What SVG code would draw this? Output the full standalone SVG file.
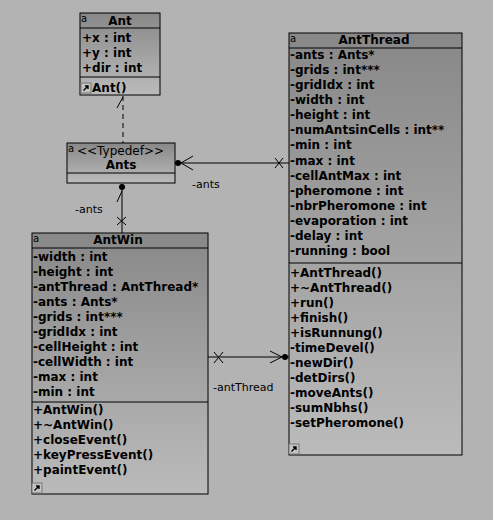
<svg xmlns="http://www.w3.org/2000/svg" width="493" height="520" viewBox="0 0 493 520">
<defs>
<linearGradient id="g" x1="0" y1="0" x2="0" y2="1">
<stop offset="0" stop-color="#888888"/>
<stop offset="1" stop-color="#bbbbbb"/>
</linearGradient>
<g id="ico">
<rect x="0" y="0" width="10" height="10" fill="#c4c4c4" stroke="#777" stroke-width="1"/>
<path d="M2.5 7.5 L7 3 M4 3 H7 V6" fill="none" stroke="#000" stroke-width="1.4"/>
</g>
</defs>
<style>
.box{fill:url(#g);stroke:#000;stroke-width:1}
.sep{stroke:#000;stroke-width:1}
.t{font-family:"DejaVu Sans",sans-serif;font-weight:bold;font-size:12px;fill:#000}
.h{font-family:"DejaVu Sans",sans-serif;font-weight:bold;font-size:12px;fill:#000;text-anchor:middle}
.n{font-family:"DejaVu Sans",sans-serif;font-size:11px;fill:#000}
.ty{font-family:"DejaVu Sans",sans-serif;font-size:12px;fill:#000}
.a{font-family:"DejaVu Sans",sans-serif;font-size:10px;fill:#000}
.ln{stroke:#000;stroke-width:1;fill:none}
</style>
<rect width="493" height="520" fill="#b3b3b3"/>

<g id="connectors">
<line class="ln" x1="123" y1="96" x2="123" y2="143" stroke-dasharray="5,4"/>
<line class="ln" x1="117" y1="108" x2="123" y2="97"/>
<line class="ln" x1="175" y1="163" x2="289" y2="163"/>
<circle cx="178" cy="163" r="3" fill="#000"/>
<path class="ln" d="M193 156 L181 163 L193 170"/>
<path class="ln" d="M275 158 L283 168 M283 158 L275 168"/>
<text class="n" x="192" y="188">-ants</text>
<line class="ln" x1="122" y1="184" x2="122" y2="233"/>
<circle cx="122" cy="187" r="3" fill="#000"/>
<line class="ln" x1="117" y1="202" x2="122" y2="191"/>
<path class="ln" d="M117 217 L126 225 M126 217 L117 225"/>
<text class="n" x="75" y="213">-ants</text>
<line class="ln" x1="208" y1="357" x2="289" y2="357"/>
<path class="ln" d="M214 352 L223 363 M223 352 L214 363"/>
<path class="ln" d="M270 351 L282 357 L270 363"/>
<circle cx="285" cy="357" r="3" fill="#000"/>
<text class="n" x="213" y="391">-antThread</text>
</g>

<g id="Ant">
<rect class="box" x="80" y="13" width="80" height="82"/>
<line class="sep" x1="80" y1="28" x2="160" y2="28"/>
<line class="sep" x1="80" y1="77" x2="160" y2="77"/>
<text class="a" x="81" y="22">a</text>
<text class="h" x="120" y="25">Ant</text>
<text class="t" x="82" y="42">+x : int</text>
<text class="t" x="82" y="57">+y : int</text>
<text class="t" x="82" y="72">+dir : int</text>
<text class="t" x="82" y="92">+Ant()</text>
<use href="#ico" x="81" y="83"/>
</g>

<g id="Ants">
<rect class="box" x="67" y="143" width="108" height="40"/>
<line class="sep" x1="67" y1="173" x2="175" y2="173"/>
<text class="a" x="68" y="152">a</text>
<text class="ty" x="77" y="155">&lt;&lt;Typedef&gt;&gt;</text>
<text class="h" x="121" y="169">Ants</text>
</g>

<g id="AntWin">
<rect class="box" x="32" y="233" width="176" height="261"/>
<line class="sep" x1="32" y1="248" x2="208" y2="248"/>
<line class="sep" x1="32" y1="402" x2="208" y2="402"/>
<text class="a" x="33" y="242">a</text>
<text class="h" x="118" y="244">AntWin</text>
<text class="t" x="33" y="261">-width : int</text>
<text class="t" x="33" y="276">-height : int</text>
<text class="t" x="33" y="291">-antThread : AntThread*</text>
<text class="t" x="33" y="306">-ants : Ants*</text>
<text class="t" x="33" y="321">-grids : int***</text>
<text class="t" x="33" y="336">-gridIdx : int</text>
<text class="t" x="33" y="351">-cellHeight : int</text>
<text class="t" x="33" y="366">-cellWidth : int</text>
<text class="t" x="33" y="381">-max : int</text>
<text class="t" x="33" y="396">-min : int</text>
<text class="t" x="33" y="414">+AntWin()</text>
<text class="t" x="33" y="429">+~AntWin()</text>
<text class="t" x="33" y="444">+closeEvent()</text>
<text class="t" x="33" y="459">+keyPressEvent()</text>
<text class="t" x="33" y="474">+paintEvent()</text>
<use href="#ico" x="32" y="483"/>
</g>

<g id="AntThread">
<rect class="box" x="289" y="33" width="173" height="422"/>
<line class="sep" x1="289" y1="48" x2="462" y2="48"/>
<line class="sep" x1="289" y1="263" x2="462" y2="263"/>
<text class="a" x="290" y="42">a</text>
<text class="h" x="374" y="44">AntThread</text>
<text class="t" x="290" y="59">-ants : Ants*</text>
<text class="t" x="290" y="74">-grids : int***</text>
<text class="t" x="290" y="89">-gridIdx : int</text>
<text class="t" x="290" y="104">-width : int</text>
<text class="t" x="290" y="119">-height : int</text>
<text class="t" x="290" y="134">-numAntsinCells : int**</text>
<text class="t" x="290" y="149">-min : int</text>
<text class="t" x="290" y="165">-max : int</text>
<text class="t" x="290" y="180">-cellAntMax : int</text>
<text class="t" x="290" y="195">-pheromone : int</text>
<text class="t" x="290" y="210">-nbrPheromone : int</text>
<text class="t" x="290" y="225">-evaporation : int</text>
<text class="t" x="290" y="240">-delay : int</text>
<text class="t" x="290" y="255">-running : bool</text>
<text class="t" x="290" y="277">+AntThread()</text>
<text class="t" x="290" y="292">+~AntThread()</text>
<text class="t" x="290" y="307">+run()</text>
<text class="t" x="290" y="322">+finish()</text>
<text class="t" x="290" y="337">+isRunnung()</text>
<text class="t" x="290" y="352">-timeDevel()</text>
<text class="t" x="290" y="367">-newDir()</text>
<text class="t" x="290" y="382">-detDirs()</text>
<text class="t" x="290" y="397">-moveAnts()</text>
<text class="t" x="290" y="412">-sumNbhs()</text>
<text class="t" x="290" y="427">-setPheromone()</text>
<use href="#ico" x="289" y="444"/>
</g>
</svg>
